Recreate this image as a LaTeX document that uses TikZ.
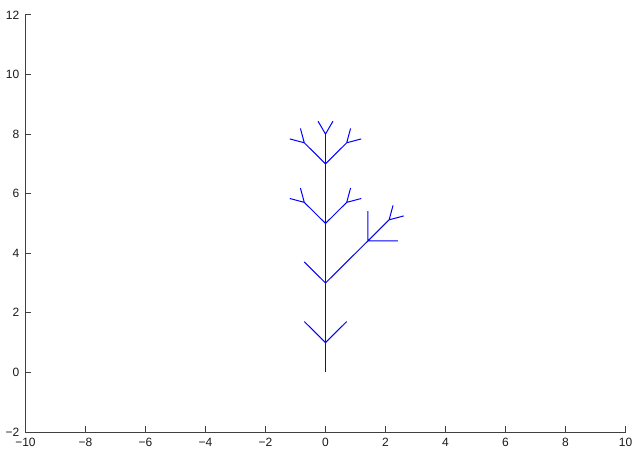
\documentclass[tikz,border=0pt]{standalone}
\usepackage{fontspec}
\setmainfont{Liberation Sans}

\newcommand\tickval[1]{\ifnum#1<0 −\number\numexpr-#1\relax\else#1\fi}

\begin{document}
\begin{tikzpicture}[
    x=30pt, y=29.79pt,
    axis/.style={draw=black!75, line width=0.8pt},
    ticklabel/.style={font=\fontsize{12}{14}\selectfont, text=black!90, inner sep=0pt},
    twig/.style={draw=blue, line width=1pt}
]
\useasboundingbox (-10.85,-2.638) rectangle (10.2167,12.5);

% axes
\coordinate (o) at (-10,-2);
\coordinate (xend) at (10,-2);
\coordinate (yend) at (-10,12);
\draw[axis] (yend) -- (o) -- (xend);

\foreach \x in {-10,-8,...,10} {
  \draw[axis] (\x,-2) -- ++(0,0.2);
  \node[ticklabel, anchor=north] (xl\x) at (\x,-2.2) {\tickval{\x}};
}
\foreach \y in {-2,0,...,12} {
  \draw[axis] (-10,\y) -- ++(0.2,0);
  \node[ticklabel, anchor=east] (yl\y) at (-10.2,\y) {\tickval{\y}};
}

% trunk
\coordinate (root) at (0,0);
\foreach \h in {1,3,5,7,8} \coordinate (t\h) at (0,\h);
\draw[twig] (root) -- (t8);

% lowest fork
\path (t1) ++(135:1) coordinate (l1) (t1) ++(45:1) coordinate (r1);
\draw[twig] (l1) -- (t1) -- (r1);

% long side branch
\path (t3) ++(135:1) coordinate (l3) (t3) ++(45:2) coordinate (k3);
\path (k3) ++(90:1) coordinate (k3u) (k3) ++(0:1) coordinate (k3r)
      (k3) ++(45:1) coordinate (k3d);
\path (k3d) ++(75:0.5) coordinate (k3a) (k3d) ++(15:0.5) coordinate (k3b);
\draw[twig] (l3) -- (t3) -- (k3) -- (k3d) (k3u) -- (k3) -- (k3r)
            (k3a) -- (k3d) -- (k3b);

% forks with twigs
\foreach \h in {5,7} {
  \path (t\h) ++(135:1) coordinate (l\h) ++(165:0.5) coordinate (la\h)
        (l\h) ++(105:0.5) coordinate (lb\h)
        (t\h) ++(45:1) coordinate (r\h) ++(15:0.5) coordinate (ra\h)
        (r\h) ++(75:0.5) coordinate (rb\h);
  \draw[twig] (la\h) -- (l\h) -- (t\h) -- (r\h) -- (ra\h)
              (lb\h) -- (l\h) (rb\h) -- (r\h);
}

% top
\path (t8) ++(120:0.5) coordinate (tl) (t8) ++(60:0.5) coordinate (tr);
\draw[twig] (tl) -- (t8) -- (tr);

\end{tikzpicture}
\end{document}
